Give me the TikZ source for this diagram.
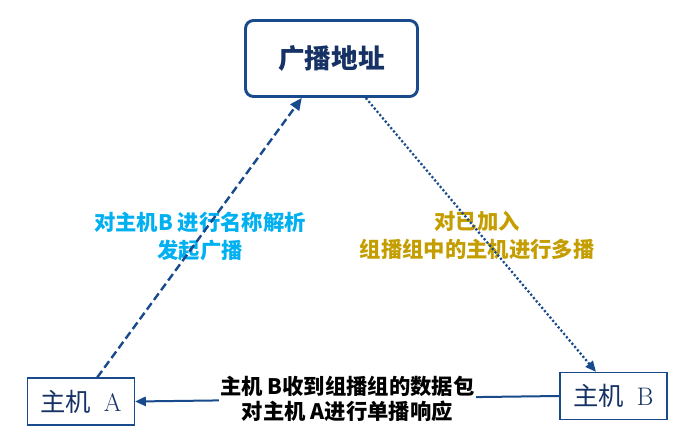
\documentclass[tikz,border=0pt]{standalone}
\usepackage{fontspec}
\newfontfamily\cjk{Noto Sans CJK SC}
\usetikzlibrary{arrows.meta}
\usetikzlibrary{positioning}
\definecolor{navy}{RGB}{24,74,140}
\definecolor{navytext}{RGB}{22,50,100}
\definecolor{c1}{RGB}{0,176,240}
\definecolor{c2}{RGB}{196,158,0}
\tikzset{
  box_main/.style={draw=navy, line width=2.2pt, rounded corners=6pt, fill=white, minimum width=129pt, minimum height=57pt, text=navytext, font=\cjk\bfseries\fontsize{20}{24}\selectfont},
  box_host/.style={draw=navy, line width=1.2pt, fill=white, minimum width=80pt, minimum height=35pt, text=navytext, font=\fontsize{19}{22}\selectfont},
  % labels
  lbl/.style={align=center, inner sep=1pt, font=\cjk\bfseries\fontsize{16}{21}\selectfont},
  lbl_mid/.style={lbl, fill=white, text=black, font=\cjk\bfseries\fontsize{16}{19}\selectfont},
  edge_dash/.style = {-{Triangle[length=9pt, width=8pt]}, navy, line width=1.8pt, dash pattern=on 6pt off 3pt},
  edge_dot/.style = {-{Triangle[length=8pt, width=7pt]}, navy, line width=1.7pt, dash pattern=on 1.6pt off 1.6pt},
  edge_solid/.style = {-{Triangle[length=8pt, width=7pt]}, navy, line width=1.5pt},
}

\begin{document}
\begin{tikzpicture}[x=0.75pt, y=-0.75pt]
	\fill[white] (0,0) rectangle (693,439);
	\useasboundingbox (0,0) rectangle (693,439);

	\node[box_main] (bcast) at (331.5,58.5) {广播地址};
	\node[box_host] (hostA) at (81,401.5) {{\cjk 主机}\hspace{0.5em}A};
	\node[box_host] (hostB) at (613.5,396) {{\cjk 主机}\hspace{0.5em}B};

	\node[lbl, text=c1] (req) at (200,236) {对主机B 进行名称解析\\发起广播};
	\node[lbl, text=c2] (multi) at (477,235) {对已加入\\组播组中的主机进行多播};

	\draw[edge_dash] (hostA.56) -- (bcast.233);
	\draw[edge_dot] (bcast.311) -- (hostB.126);
	\draw[edge_solid] (hostB.west) -- node[lbl_mid] (resp) {主机 B收到组播组的数据包\\对主机 A进行单播响应} (hostA.east);

\end{tikzpicture}
\end{document}
